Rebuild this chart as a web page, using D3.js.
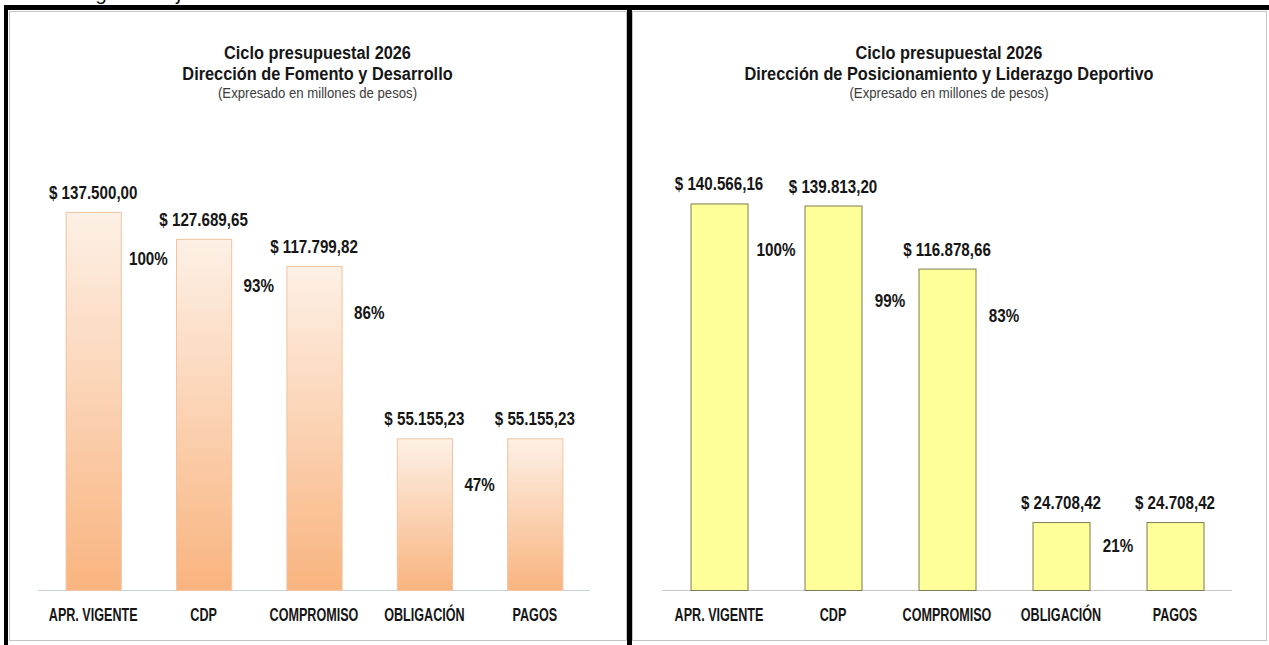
<!DOCTYPE html>
<html>
<head>
<meta charset="utf-8">
<script src="https://cdn.jsdelivr.net/npm/d3@7"></script>
<style>
  body { margin: 0; background: #fff; }
  text { font-family: "Liberation Sans Narrow", "Arial Narrow", "Liberation Sans", sans-serif; }
</style>
</head>
<body>
<div id="chart"></div>
<script>
// data (millones de pesos)
var categories = ["APR. VIGENTE", "CDP", "COMPROMISO", "OBLIGACIÓN", "PAGOS"];

var fomentoValues = [137500.00, 127689.65, 117799.82, 55155.23, 55155.23];
var fomentoPct = [100, 93, 86, 47];
var fomentoTitle = ["Ciclo presupuestal 2026", "Dirección de Fomento y Desarrollo"];

var deporteValues = [140566.16, 139813.20, 116878.66, 24708.42, 24708.42];
var deportePct = [100, 99, 83, 21];
var deporteTitle = ["Ciclo presupuestal 2026", "Dirección de Posicionamiento y Liderazgo Deportivo"];

var subtitle = "(Expresado en millones de pesos)";

var W = 1269, H = 645;

var locale = d3.formatLocale({decimal: ",", thousands: ".", grouping: [3], currency: ["$ ", ""]});
var fmtMoney = locale.format("$,.2f");

var svg = d3.select("#chart")
  .append("svg")
    .attr("width", W)
    .attr("height", H);

var defs = svg.append("defs");
var grad = defs.append("linearGradient")
    .attr("id", "orangeGrad")
    .attr("x1", 0).attr("y1", 0).attr("x2", 0).attr("y2", 1);
grad.append("stop").attr("offset", "0%").attr("stop-color", "#fdf0e6");
grad.append("stop").attr("offset", "100%").attr("stop-color", "#f9b47f");

// caption line above the frame (cut in the original too)
svg.append("text")
    .attr("x", 80).attr("y", 0)
    .style("font-family", "'Liberation Sans', sans-serif")
    .style("font-style", "italic")
    .style("font-size", "20px")
    .attr("fill", "#000")
    .text("Figura 2. Ejecución");

// condensed text helper
function label(g, x, y, txt, size, sx, opts) {
  opts = opts || {};
  return g.append("text")
    .attr("transform", "translate(" + x + "," + y + ") scale(" + sx + ",1)")
    .attr("text-anchor", "middle")
    .style("font-size", size + "px")
    .style("font-weight", opts.weight || "bold")
    .attr("fill", opts.fill || "#161616")
    .text(txt);
}

function drawPanel(cfg) {
  var g = svg.append("g");

  // chart border
  g.append("rect")
    .attr("x", cfg.box[0] + 0.5).attr("y", cfg.box[1] + 0.5)
    .attr("width", cfg.box[2]).attr("height", cfg.box[3])
    .attr("fill", "#fff")
    .attr("stroke", "#c4c4c4");

  var cx = cfg.box[0] + cfg.box[2] / 2;
  label(g, cx, 59, cfg.title[0], 19, 0.86);
  label(g, cx, 80, cfg.title[1], 19, 0.86);
  label(g, cx, 98, subtitle, 15.5, 0.85, {weight: "normal", fill: "#3c3c3c"});

  var x = d3.scaleBand()
    .domain(categories)
    .range(cfg.xRange)
    .paddingInner(0.5)
    .paddingOuter(0.25);

  var y = d3.scaleLinear()
    .domain([0, 150000])
    .range([590, 177.5]);

  // baseline
  g.append("line")
    .attr("x1", cfg.xRange[0]).attr("x2", cfg.xRange[1])
    .attr("y1", 590.5).attr("y2", 590.5)
    .attr("stroke", cfg.axisColor)
    .attr("stroke-width", 1.2);

  var data = categories.map(function(c, i) { return {cat: c, v: cfg.values[i]}; });

  g.append("g")
    .selectAll("rect")
    .data(data)
    .enter()
    .append("rect")
      .attr("x", function(d) { return x(d.cat) + 0.5; })
      .attr("y", function(d) { return y(d.v) + 0.5; })
      .attr("width", x.bandwidth())
      .attr("height", function(d) { return 590 - y(d.v); })
      .attr("fill", cfg.fill)
      .attr("stroke", cfg.stroke)
      .attr("stroke-width", 1);

  // value labels
  data.forEach(function(d) {
    label(g, x(d.cat) + x.bandwidth() / 2, y(d.v) - 13, fmtMoney(d.v), 18.5, 0.82);
  });

  // percentage labels in the gap after each bar
  var step = x.step();
  cfg.pct.forEach(function(p, i) {
    var top = y(data[i].v);
    var cy = Math.min(top + 46, 590 - 45);
    // stagger when the neighbouring bar is almost the same height
    if (i > 0 && Math.abs(top - y(data[i - 1].v)) < 15) cy += 48;
    var px = x(data[i].cat) + x.bandwidth() + (step - x.bandwidth()) / 2;
    label(g, px, cy + 7, p + "%", 19, 0.8);
  });

  // category labels
  categories.forEach(function(c) {
    label(g, x(c) + x.bandwidth() / 2, 621, c, 18, 0.7);
  });
}

drawPanel({
  box: [9, 11, 617, 629],
  xRange: [38, 590],
  title: fomentoTitle,
  values: fomentoValues,
  pct: fomentoPct,
  fill: "url(#orangeGrad)",
  stroke: "#f2c3a0",
  axisColor: "#c9d1da"
});

drawPanel({
  box: [632, 11, 634, 629],
  xRange: [662, 1232],
  title: deporteTitle,
  values: deporteValues,
  pct: deportePct,
  fill: "#ffff99",
  stroke: "#7d7d55",
  axisColor: "#c8c8c8"
});

// black frame
svg.append("rect").attr("x", 4).attr("y", 5).attr("width", W - 4).attr("height", 5).attr("fill", "#000");
svg.append("rect").attr("x", 4).attr("y", 5).attr("width", 4).attr("height", H - 5).attr("fill", "#000");
svg.append("rect").attr("x", 627).attr("y", 5).attr("width", 5).attr("height", H - 5).attr("fill", "#000");
</script>
</body>
</html>
